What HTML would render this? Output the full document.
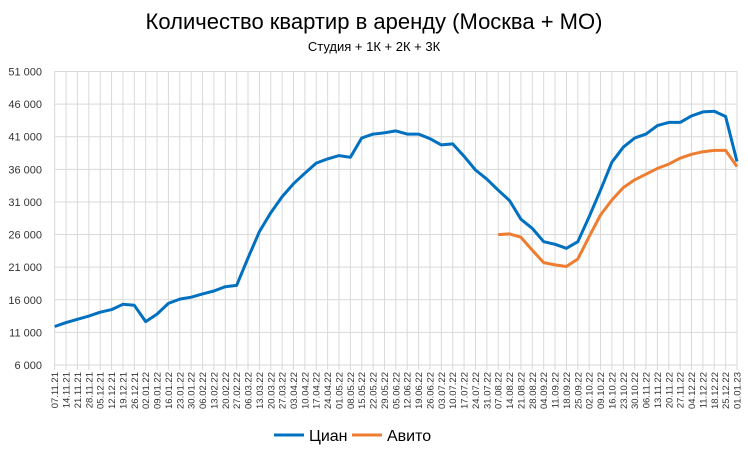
<!DOCTYPE html>
<html><head><meta charset="utf-8"><style>
body{margin:0;background:#fff;font-family:"Liberation Sans",sans-serif;}
svg{display:block}
</style></head><body>
<svg id="chart" width="748" height="455" font-family="Liberation Sans, sans-serif">
<text x="374" y="29" text-anchor="middle" font-size="22" fill="#000">Количество квартир в аренду (Москва + МО)</text>
<text x="374" y="51" text-anchor="middle" font-size="13" fill="#000">Студия + 1К + 2К + 3К</text>
<g id="grid"></g><g id="axes"></g><g id="series"></g>
<g>
<line x1="274" y1="435" x2="304" y2="435" stroke="#0070C0" stroke-width="3"/>
<text x="309" y="441" font-size="16">Циан</text>
<line x1="352" y1="435" x2="382" y2="435" stroke="#ED7D31" stroke-width="3"/>
<text x="387" y="441" font-size="16">Авито</text>
</g>
</svg>
<script>
const categories=["07.11.21","14.11.21","21.11.21","28.11.21","05.12.21","12.12.21","19.12.21","26.12.21","02.01.22","09.01.22","16.01.22","23.01.22","30.01.22","06.02.22","13.02.22","20.02.22","27.02.22","06.03.22","13.03.22","20.03.22","27.03.22","03.04.22","10.04.22","17.04.22","24.04.22","01.05.22","08.05.22","15.05.22","22.05.22","29.05.22","05.06.22","12.06.22","19.06.22","26.06.22","03.07.22","10.07.22","17.07.22","24.07.22","31.07.22","07.08.22","14.08.22","21.08.22","28.08.22","04.09.22","11.09.22","18.09.22","25.09.22","02.10.22","09.10.22","16.10.22","23.10.22","30.10.22","06.11.22","13.11.22","20.11.22","27.11.22","04.12.22","11.12.22","18.12.22","25.12.22","01.01.23"];
const cian=[11900,12500,13000,13500,14100,14500,15300,15150,12650,13800,15450,16100,16400,16900,17350,18000,18200,22400,26450,29350,31800,33800,35400,36950,37600,38100,37850,40800,41400,41600,41900,41400,41400,40700,39750,39900,38000,35900,34500,32800,31200,28350,26950,24900,24500,23900,24900,28750,32800,37100,39400,40800,41400,42700,43200,43200,44200,44800,44900,44100,37200];
const avito=[null,null,null,null,null,null,null,null,null,null,null,null,null,null,null,null,null,null,null,null,null,null,null,null,null,null,null,null,null,null,null,null,null,null,null,null,null,null,null,26000,26100,25600,23600,21700,21350,21100,22250,25700,29000,31300,33200,34400,35250,36150,36800,37700,38300,38700,38900,38900,36400];
const yTicks=[6000,11000,16000,21000,26000,31000,36000,41000,46000,51000];
const NS="http://www.w3.org/2000/svg";
const x0=54.7,x1=737,yTop=71.5,yBot=365,vMin=6000,vMax=51000;
function xs(i){return x0+(x1-x0)*i/(categories.length-1);}
function ys(v){return yBot-(v-vMin)/(vMax-vMin)*(yBot-yTop);}
function mk(t,a,p){const e=document.createElementNS(NS,t);for(const k in a)e.setAttribute(k,a[k]);p.appendChild(e);return e;}
const grid=document.getElementById('grid'),axes=document.getElementById('axes'),ser=document.getElementById('series');
yTicks.forEach(v=>{
 const l=mk('line',{x1:x0,x2:x1,y1:ys(v),y2:ys(v),stroke:'#d9d9d9','stroke-width':1},grid);
 
 
 const t=mk('text',{x:42,y:ys(v)+4,'text-anchor':'end','font-size':11,fill:'#333'},axes);
 t.textContent=v.toLocaleString('ru-RU').replace(/\s/g,' ');
 
 
});
categories.forEach((c,i)=>{
 const l=mk('line',{x1:xs(i),x2:xs(i),y1:yTop,y2:yBot+5,stroke:'#d9d9d9','stroke-width':1},grid);
 
 
 const t=mk('text',{transform:`translate(${xs(i)+3.5},${yBot+7}) rotate(-90)`,'text-anchor':'end','font-size':9.5,fill:'#333'},axes);
 t.textContent=c;
 
 
});
function line(vals,color,name){
 let d='';vals.forEach((v,i)=>{if(v==null)return;d+=(d?'L':'M')+xs(i).toFixed(1)+','+ys(v).toFixed(1);});
 const p=mk('path',{d:d,fill:'none',stroke:color,'stroke-width':3,'stroke-linejoin':'round'},ser);
 
 
}
line(cian,'#0070C0','cian-line');
line(avito,'#ED7D31','avito-line');
</script>
</body></html>
